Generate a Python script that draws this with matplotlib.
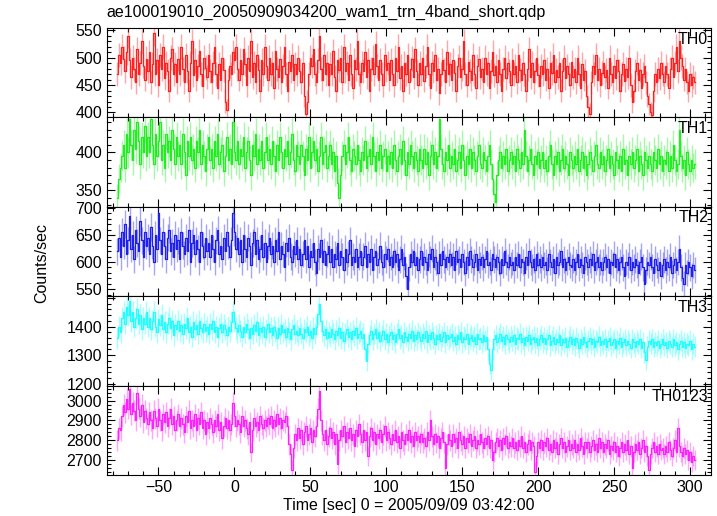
import numpy as np
import matplotlib
matplotlib.use("Agg")
import matplotlib.pyplot as plt
from matplotlib.ticker import MultipleLocator, FuncFormatter

plt.rcParams['font.family'] = ['Liberation Sans', 'DejaVu Sans']

# 1 s bins starting at t = -77 s
t_start = -77

th0 = [470, 505, 490, 520, 498, 475, 510, 540, 495, 465, 500, 480, 455, 515, 470, 490, 530, 485, 460, 498,
       475, 510, 455, 488, 545, 470, 495, 450, 505, 480, 520, 462, 490, 475, 440, 500, 515, 470, 488, 455,
       498, 470, 520, 480, 455, 505, 475, 440, 490, 530, 468, 495, 460, 485, 512, 470, 448, 500, 482, 465,
       505, 475, 455, 490, 520, 470, 445, 488, 460, 500, 478, 420, 405, 460, 485, 470, 510, 495, 520, 480,
       460, 495, 470, 515, 488, 450, 500, 475, 530, 465, 490, 455, 505, 478, 440, 495, 470, 520, 485, 460,
       500, 470, 490, 445, 512, 480, 465, 498, 455, 485, 520, 470, 440, 492, 475, 505, 460, 488, 470, 500,
       475, 455, 490, 430, 398, 420, 470, 500, 485, 515, 470, 455, 495, 540, 480, 460, 505, 470, 490, 450,
       488, 470, 512, 465, 440, 495, 478, 500, 455, 520, 475, 490, 460, 505, 470, 445, 495, 480, 530, 470,
       455, 490, 475, 510, 465, 495, 440, 480, 500, 470, 525, 485, 460, 495, 470, 450, 505, 478, 490, 460,
       495, 470, 450, 500, 475, 520, 462, 485, 440, 490, 470, 505, 455, 480, 498, 465, 515, 475, 450, 490,
       470, 500, 458, 485, 520, 470, 445, 490, 475, 505, 460, 480, 435, 470, 495, 478, 455, 510, 470, 488,
       460, 495, 472, 440, 485, 500, 465, 480, 530, 470, 450, 492, 475, 460, 505, 470, 445, 485, 498, 465,
       480, 455, 500, 470, 490, 445, 475, 510, 468, 485, 455, 495, 470, 440, 480, 500, 462, 490, 475, 450,
       495, 470, 485, 455, 505, 478, 460, 490, 470, 440, 480, 515, 465, 490, 455, 475, 500, 468, 448, 485,
       470, 495, 460, 480, 445, 490, 472, 505, 455, 478, 465, 490, 440, 475, 500, 462, 485, 470, 450, 492,
       465, 480, 455, 500, 470, 445, 488, 460, 475, 430, 410, 398, 455, 485, 470, 505, 460, 480, 450, 472,
       490, 465, 478, 445, 500, 470, 455, 485, 462, 495, 475, 440, 470, 488, 458, 480, 465, 500, 450, 420,
       440, 475, 490, 460, 478, 445, 470, 485, 455, 430, 415, 400, 395, 440, 470, 455, 480, 462, 490, 470,
       455, 485, 470, 445, 480, 500, 465, 490, 520, 475, 530, 500, 485, 460, 480, 455, 440, 470, 450, 465,
       455]

th1 = [340, 365, 380, 395, 410, 380, 425, 400, 445, 410, 390, 430, 405, 440, 415, 385, 420, 400, 435, 395,
       420, 400, 445, 410, 385, 425, 395, 415, 440, 390, 410, 380, 425, 400, 415, 390, 430, 405, 385, 420,
       395, 410, 385, 425, 400, 370, 415, 395, 420, 390, 405, 380, 415, 400, 430, 385, 410, 395, 375, 405,
       420, 390, 405, 380, 415, 395, 425, 385, 400, 410, 375, 395, 420, 390, 405, 385, 440, 400, 390, 415,
       385, 405, 395, 420, 380, 400, 415, 390, 370, 410, 395, 425, 385, 405, 390, 415, 380, 400, 420, 390,
       405, 385, 415, 395, 375, 410, 390, 420, 400, 380, 405, 395, 415, 385, 400, 425, 390, 375, 410, 395,
       385, 410, 395, 370, 405, 390, 420, 380, 400, 415, 390, 405, 375, 395, 420, 385, 400, 410, 380, 395,
       410, 385, 400, 375, 395, 360, 340, 370, 395, 410, 385, 400, 420, 390, 375, 405, 395, 385, 410, 390,
       375, 400, 390, 415, 380, 395, 405, 385, 420, 395, 375, 400, 390, 410, 380, 395, 405, 375, 395, 385,
       400, 380, 410, 390, 375, 395, 405, 385, 415, 390, 370, 400, 385, 410, 395, 380, 400, 390, 375, 405,
       390, 380, 405, 385, 400, 370, 395, 410, 385, 400, 380, 395, 445, 405, 385, 375, 400, 390, 410, 380,
       395, 385, 405, 375, 390, 400, 380, 410, 390, 370, 395, 385, 405, 380, 400, 390, 375, 395, 410, 385,
       380, 400, 390, 375, 395, 410, 385, 365, 345, 335, 370, 390, 400, 380, 395, 385, 405, 375, 390, 400,
       385, 395, 375, 405, 390, 380, 400, 385, 430, 395, 375, 390, 405, 385, 370, 395, 385, 400, 380, 390,
       400, 380, 390, 375, 395, 410, 385, 370, 395, 385, 400, 375, 390, 405, 380, 395, 385, 370, 400, 390,
       380, 395, 385, 405, 375, 390, 400, 380, 395, 370, 385, 400, 390, 375, 395, 410, 385, 380, 400, 385,
       395, 375, 390, 405, 380, 395, 385, 370, 400, 390, 380, 395, 375, 405, 385, 390, 370, 395, 385, 400,
       380, 390, 405, 375, 395, 385, 370, 400, 390, 380, 395, 385, 375, 400, 390, 380, 405, 385, 395, 375,
       390, 385, 400, 375, 395, 380, 410, 390, 375, 385, 430, 395, 380, 390, 370, 400, 385, 375, 390, 380,
       385]

th2 = [620, 645, 610, 655, 630, 670, 615, 640, 685, 625, 650, 605, 660, 635, 620, 675, 640, 610, 655, 630,
       645, 615, 665, 630, 600, 650, 625, 690, 640, 615, 655, 630, 605, 645, 660, 620, 635, 610, 650, 625,
       640, 605, 655, 630, 615, 645, 620, 660, 600, 635, 650, 615, 640, 625, 600, 655, 630, 610, 645, 620,
       635, 610, 650, 625, 600, 640, 660, 615, 630, 605, 645, 620, 655, 630, 610, 640, 690, 655, 625, 645,
       615, 640, 600, 650, 625, 610, 645, 630, 595, 635, 655, 615, 640, 605, 625, 650, 610, 635, 600, 630,
       645, 615, 630, 600, 640, 620, 655, 605, 630, 615, 590, 635, 620, 645, 610, 600, 630, 615, 640, 605,
       625, 595, 615, 640, 605, 630, 590, 620, 610, 635, 600, 580, 625, 610, 640, 600, 620, 595, 615, 630,
       600, 625, 590, 615, 605, 635, 595, 620, 610, 585, 625, 600, 615, 640, 595, 610, 600, 625, 590, 610,
       620, 595, 610, 630, 590, 615, 600, 625, 585, 610, 620, 595, 605, 630, 600, 590, 615, 605, 625, 595,
       610, 590, 620, 600, 615, 585, 605, 625, 595, 610, 575, 550, 590, 615, 600, 620, 595, 610, 585, 605,
       620, 595, 610, 600, 585, 615, 605, 625, 590, 610, 600, 580, 615, 595, 620, 605, 590, 610, 600, 615,
       595, 610, 585, 620, 600, 605, 590, 615, 600, 580, 610, 595, 620, 605, 590, 600, 615, 585, 605, 595,
       610, 590, 605, 620, 595, 600, 585, 615, 605, 590, 610, 600, 580, 605, 595, 620, 600, 590, 610, 595,
       600, 585, 610, 595, 615, 590, 605, 600, 580, 610, 595, 620, 600, 590, 605, 585, 615, 595, 605, 590,
       610, 595, 600, 585, 615, 600, 590, 605, 580, 610, 595, 600, 620, 590, 605, 585, 600, 610, 595, 590,
       605, 585, 600, 615, 590, 605, 595, 580, 610, 600, 590, 605, 595, 615, 585, 600, 610, 590, 600, 585,
       600, 610, 590, 605, 580, 600, 595, 615, 590, 605, 585, 600, 610, 590, 575, 600, 595, 610, 585, 600,
       590, 605, 595, 580, 600, 610, 590, 560, 585, 600, 595, 610, 590, 580, 605, 595, 585, 600, 575, 595,
       605, 585, 600, 590, 610, 580, 595, 605, 585, 600, 625, 590, 570, 560, 595, 580, 600, 590, 575, 595,
       585]

th3 = [1360, 1400, 1380, 1430, 1450, 1410, 1470, 1440, 1490, 1420, 1450, 1400, 1430, 1460, 1410, 1440, 1390, 1430, 1410, 1450,
       1400, 1430, 1390, 1420, 1450, 1400, 1380, 1425, 1405, 1440, 1390, 1415, 1380, 1410, 1430, 1395, 1420, 1370, 1405, 1390,
       1420, 1385, 1405, 1375, 1410, 1395, 1430, 1380, 1400, 1365, 1415, 1390, 1405, 1375, 1420, 1395, 1380, 1410, 1385, 1400,
       1375, 1410, 1390, 1420, 1380, 1400, 1365, 1395, 1410, 1380, 1405, 1390, 1370, 1400, 1385, 1415, 1450, 1420, 1395, 1380,
       1405, 1385, 1365, 1400, 1380, 1410, 1390, 1360, 1395, 1375, 1405, 1385, 1415, 1370, 1395, 1380, 1400, 1365, 1390, 1410,
       1380, 1395, 1370, 1400, 1385, 1360, 1395, 1375, 1405, 1380, 1390, 1365, 1395, 1380, 1355, 1390, 1405, 1375, 1385, 1370,
       1395, 1375, 1360, 1390, 1380, 1400, 1370, 1385, 1360, 1395, 1375, 1400, 1445, 1480, 1420, 1385, 1370, 1390, 1360, 1380,
       1365, 1390, 1375, 1355, 1385, 1370, 1395, 1360, 1380, 1350, 1375, 1390, 1365, 1380, 1355, 1385, 1370, 1395, 1360, 1375,
       1385, 1360, 1375, 1320, 1280, 1340, 1370, 1385, 1355, 1375, 1390, 1360, 1380, 1350, 1370, 1385, 1355, 1375, 1345, 1370,
       1380, 1355, 1370, 1345, 1375, 1390, 1360, 1370, 1345, 1380, 1365, 1350, 1375, 1360, 1385, 1350, 1370, 1355, 1380, 1365,
       1350, 1375, 1360, 1385, 1345, 1370, 1355, 1380, 1360, 1340, 1370, 1355, 1375, 1350, 1365, 1380, 1345, 1370, 1355, 1365,
       1375, 1350, 1365, 1340, 1370, 1355, 1380, 1345, 1365, 1355, 1375, 1340, 1360, 1370, 1350, 1365, 1340, 1375, 1355, 1360,
       1345, 1370, 1350, 1365, 1320, 1270, 1250, 1320, 1355, 1370, 1345, 1360, 1375, 1350, 1365, 1340, 1370, 1355, 1345, 1365,
       1350, 1370, 1340, 1360, 1355, 1375, 1345, 1360, 1335, 1365, 1350, 1370, 1340, 1355, 1365, 1345, 1360, 1335, 1355, 1370,
       1345, 1360, 1340, 1355, 1370, 1335, 1350, 1365, 1340, 1355, 1345, 1370, 1335, 1355, 1345, 1360, 1330, 1350, 1365, 1340,
       1355, 1335, 1360, 1345, 1325, 1355, 1340, 1365, 1345, 1330, 1350, 1360, 1340, 1355, 1330, 1350, 1345, 1365, 1335, 1350,
       1340, 1355, 1330, 1350, 1360, 1335, 1345, 1355, 1325, 1350, 1340, 1360, 1330, 1345, 1355, 1335, 1350, 1340, 1325, 1355,
       1345, 1330, 1350, 1340, 1355, 1325, 1345, 1310, 1285, 1330, 1350, 1340, 1355, 1330, 1345, 1335, 1350, 1325, 1340, 1355,
       1335, 1345, 1325, 1350, 1340, 1330, 1355, 1335, 1345, 1320, 1340, 1350, 1330, 1345, 1325, 1340, 1335, 1350, 1320, 1340,
       1330]

th0123 = [2800, 2860, 2850, 2920, 2980, 2940, 3010, 2960, 3060, 2930, 2990, 2950, 2900, 3040, 2960, 2920, 2980, 2890, 2950, 2910,
          2880, 2940, 2900, 2860, 2950, 2910, 2870, 2960, 2900, 2850, 2930, 2890, 2940, 2870, 2910, 2960, 2880, 2920, 2850, 2900,
          2930, 2870, 2910, 2880, 2840, 2920, 2890, 2950, 2860, 2900, 2870, 2930, 2850, 2910, 2880, 2940, 2860, 2900, 2830, 2890,
          2860, 2910, 2880, 2840, 2900, 2870, 2930, 2850, 2890, 2810, 2870, 2910, 2860, 2900, 2850, 2880, 2990, 2920, 2870, 2900,
          2880, 2840, 2920, 2870, 2900, 2860, 2830, 2890, 2740, 2850, 2910, 2870, 2890, 2850, 2920, 2880, 2860, 2900, 2870, 2910,
          2880, 2920, 2860, 2900, 2870, 2930, 2880, 2910, 2860, 2900, 2890, 2920, 2870, 2780, 2730, 2650, 2760, 2830, 2800, 2860,
          2810, 2850, 2780, 2840, 2870, 2800, 2830, 2860, 2790, 2850, 2820, 2870, 2960, 3050, 2900, 2830, 2800, 2850, 2780, 2820,
          2860, 2810, 2840, 2780, 2830, 2680, 2800, 2850, 2820, 2870, 2790, 2840, 2810, 2860, 2800, 2830, 2770, 2850, 2820, 2880,
          2830, 2790, 2850, 2800, 2840, 2720, 2820, 2860, 2800, 2840, 2780, 2830, 2810, 2850, 2790, 2830, 2870, 2800, 2840, 2810,
          2780, 2830, 2800, 2850, 2790, 2820, 2760, 2840, 2800, 2780, 2830, 2800, 2850, 2790, 2820, 2770, 2840, 2800, 2820, 2790,
          2830, 2790, 2810, 2770, 2840, 2800, 2900, 2820, 2780, 2830, 2790, 2820, 2760, 2810, 2840, 2790, 2660, 2780, 2830, 2800,
          2770, 2830, 2790, 2810, 2760, 2840, 2800, 2780, 2820, 2760, 2810, 2790, 2830, 2770, 2800, 2820, 2760, 2800, 2780, 2830,
          2790, 2760, 2810, 2780, 2820, 2760, 2800, 2700, 2740, 2790, 2810, 2770, 2800, 2750, 2810, 2780, 2820, 2760, 2790, 2770,
          2810, 2760, 2790, 2750, 2800, 2770, 2820, 2760, 2790, 2740, 2780, 2800, 2750, 2790, 2770, 2640, 2720, 2790, 2760, 2800,
          2750, 2790, 2770, 2810, 2750, 2780, 2740, 2800, 2760, 2790, 2730, 2780, 2810, 2760, 2790, 2740, 2770, 2800, 2750, 2780,
          2760, 2800, 2740, 2780, 2750, 2810, 2770, 2730, 2790, 2760, 2790, 2740, 2770, 2800, 2750, 2780, 2740, 2810, 2760, 2790,
          2740, 2780, 2760, 2800, 2730, 2770, 2750, 2790, 2740, 2770, 2720, 2760, 2790, 2740, 2780, 2750, 2800, 2730, 2770, 2660,
          2740, 2780, 2750, 2790, 2730, 2760, 2800, 2740, 2770, 2720, 2650, 2730, 2760, 2790, 2740, 2770, 2730, 2780, 2750, 2760,
          2730, 2770, 2740, 2790, 2750, 2720, 2760, 2800, 2740, 2860, 2770, 2740, 2720, 2760, 2730, 2750, 2700, 2740, 2690, 2720,
          2700]

labels = ['TH0', 'TH1', 'TH2', 'TH3', 'TH0123']
series = [th0, th1, th2, th3, th0123]
colors = ['#ff2020', '#20ee20', '#2020ee', '#20ffff', '#ff20ff']
ylims = [(391, 554), (328, 446.5), (537, 702), (1194, 1506), (2624, 3076)]
majors = [50, 50, 50, 100, 100]
minors = [10, 10, 10, 20, 20]
label_max = [550, 400, 700, 1400, 3000]

fig = plt.figure(figsize=(7.17, 5.16), dpi=100)
fig.subplots_adjust(left=0.149, right=0.992, top=0.9457, bottom=0.0795, hspace=0)
axes = fig.subplots(5, 1, sharex=True)

for ax, v, lab, c, yl, mj, mn, lm in zip(axes, series, labels, colors, ylims, majors, minors, label_max):
    v = np.array(v, dtype=float)
    t = t_start + np.arange(len(v))
    err = np.sqrt(v)  # 1 s bins, Poisson
    ax.errorbar(t, v, yerr=err, fmt='none', ecolor=c, alpha=0.4, lw=1.0)
    ax.step(t, v, where='mid', color=c, lw=0.9)
    ax.set_ylim(*yl)
    ax.set_xlim(-84, 314)
    ax.yaxis.set_major_locator(MultipleLocator(mj))
    ax.yaxis.set_minor_locator(MultipleLocator(mn))
    ax.yaxis.set_major_formatter(FuncFormatter(lambda y, p, lm=lm: '%d' % y if y <= lm else ''))
    ax.xaxis.set_major_locator(MultipleLocator(50))
    ax.xaxis.set_minor_locator(MultipleLocator(10))
    ax.tick_params(which='both', direction='in', top=True, right=True, labelsize=11.5, width=0.8)
    ax.tick_params(which='major', length=6)
    ax.tick_params(which='minor', length=3)
    for s in ax.spines.values():
        s.set_linewidth(0.8)
    ax.text(0.995, 0.96, lab, transform=ax.transAxes, ha='right', va='top', fontsize=11.5)

axes[-1].set_xlabel('Time [sec] 0 = 2005/09/09 03:42:00', fontsize=11.5, labelpad=2)
fig.text(0.058, 0.49, 'Counts/sec', rotation=90, ha='center', va='center', fontsize=11.5)
fig.text(0.149, 0.962, 'ae100019010_20050909034200_wam1_trn_4band_short.qdp', ha='left', va='bottom', fontsize=11.5)

fig.savefig('out.png', dpi=100)
